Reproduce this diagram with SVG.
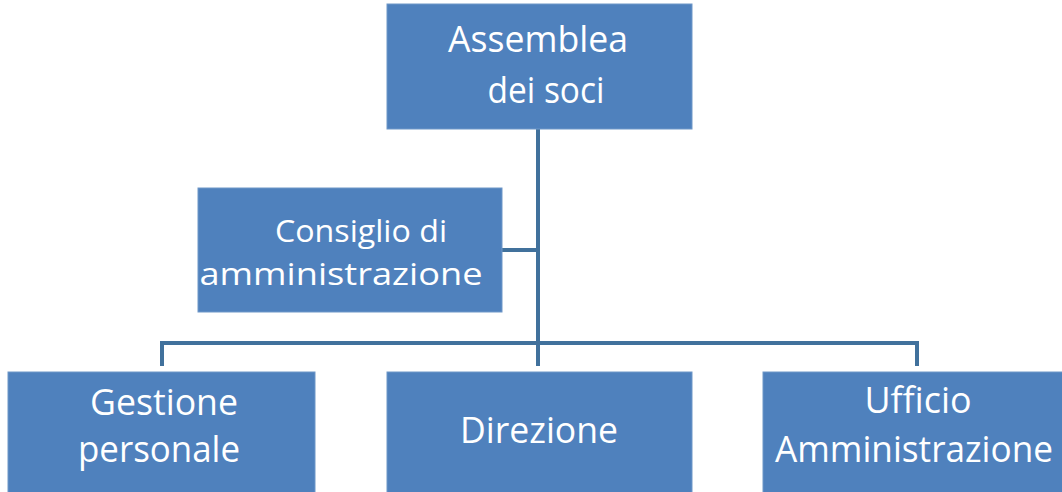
<svg xmlns="http://www.w3.org/2000/svg" width="1062" height="492" viewBox="0 0 1062 492">
<style>
.box{fill:#4F81BD;stroke:#6F97C8;stroke-width:1}
.t{font-family:"Open Sans","Noto Sans",sans-serif;font-size:36px;fill:#FFFFFF;text-anchor:middle}
.s{font-size:31px}
.c{fill:none;stroke:#41719C;stroke-width:4}
</style>
<rect width="1062" height="492" fill="#FFFFFF"/>
<g id="connectors">
<path class="c" d="M538 129 V366"/>
<path class="c" d="M502 250 H538"/>
<path class="c" d="M162 366 V343 H917 V366"/>
</g>
<g id="assemblea">
<rect class="box" x="387" y="4" width="305" height="125"/>
<text class="t" x="538" y="52" textLength="180" lengthAdjust="spacingAndGlyphs">Assemblea</text>
<text class="t" x="546" y="103" textLength="117" lengthAdjust="spacingAndGlyphs">dei soci</text>
</g>
<g id="consiglio">
<rect class="box" x="198" y="188" width="304" height="124"/>
<text class="t s" x="361" y="242" textLength="172" lengthAdjust="spacingAndGlyphs">Consiglio di</text>
<text class="t s" x="341" y="285" textLength="283" lengthAdjust="spacingAndGlyphs">amministrazione</text>
</g>
<g id="gestione">
<rect class="box" x="8" y="372" width="307" height="130"/>
<text class="t" x="164" y="415" textLength="148" lengthAdjust="spacingAndGlyphs">Gestione</text>
<text class="t" x="159" y="462" textLength="162" lengthAdjust="spacingAndGlyphs">personale</text>
</g>
<g id="direzione">
<rect class="box" x="387" y="372" width="305" height="130"/>
<text class="t" x="539" y="443" textLength="158" lengthAdjust="spacingAndGlyphs">Direzione</text>
</g>
<g id="ufficio">
<rect class="box" x="763" y="372" width="310" height="130"/>
<text class="t" x="918" y="413" textLength="107" lengthAdjust="spacingAndGlyphs">Ufficio</text>
<text class="t" x="914" y="462" textLength="278" lengthAdjust="spacingAndGlyphs">Amministrazione</text>
</g>
</svg>
